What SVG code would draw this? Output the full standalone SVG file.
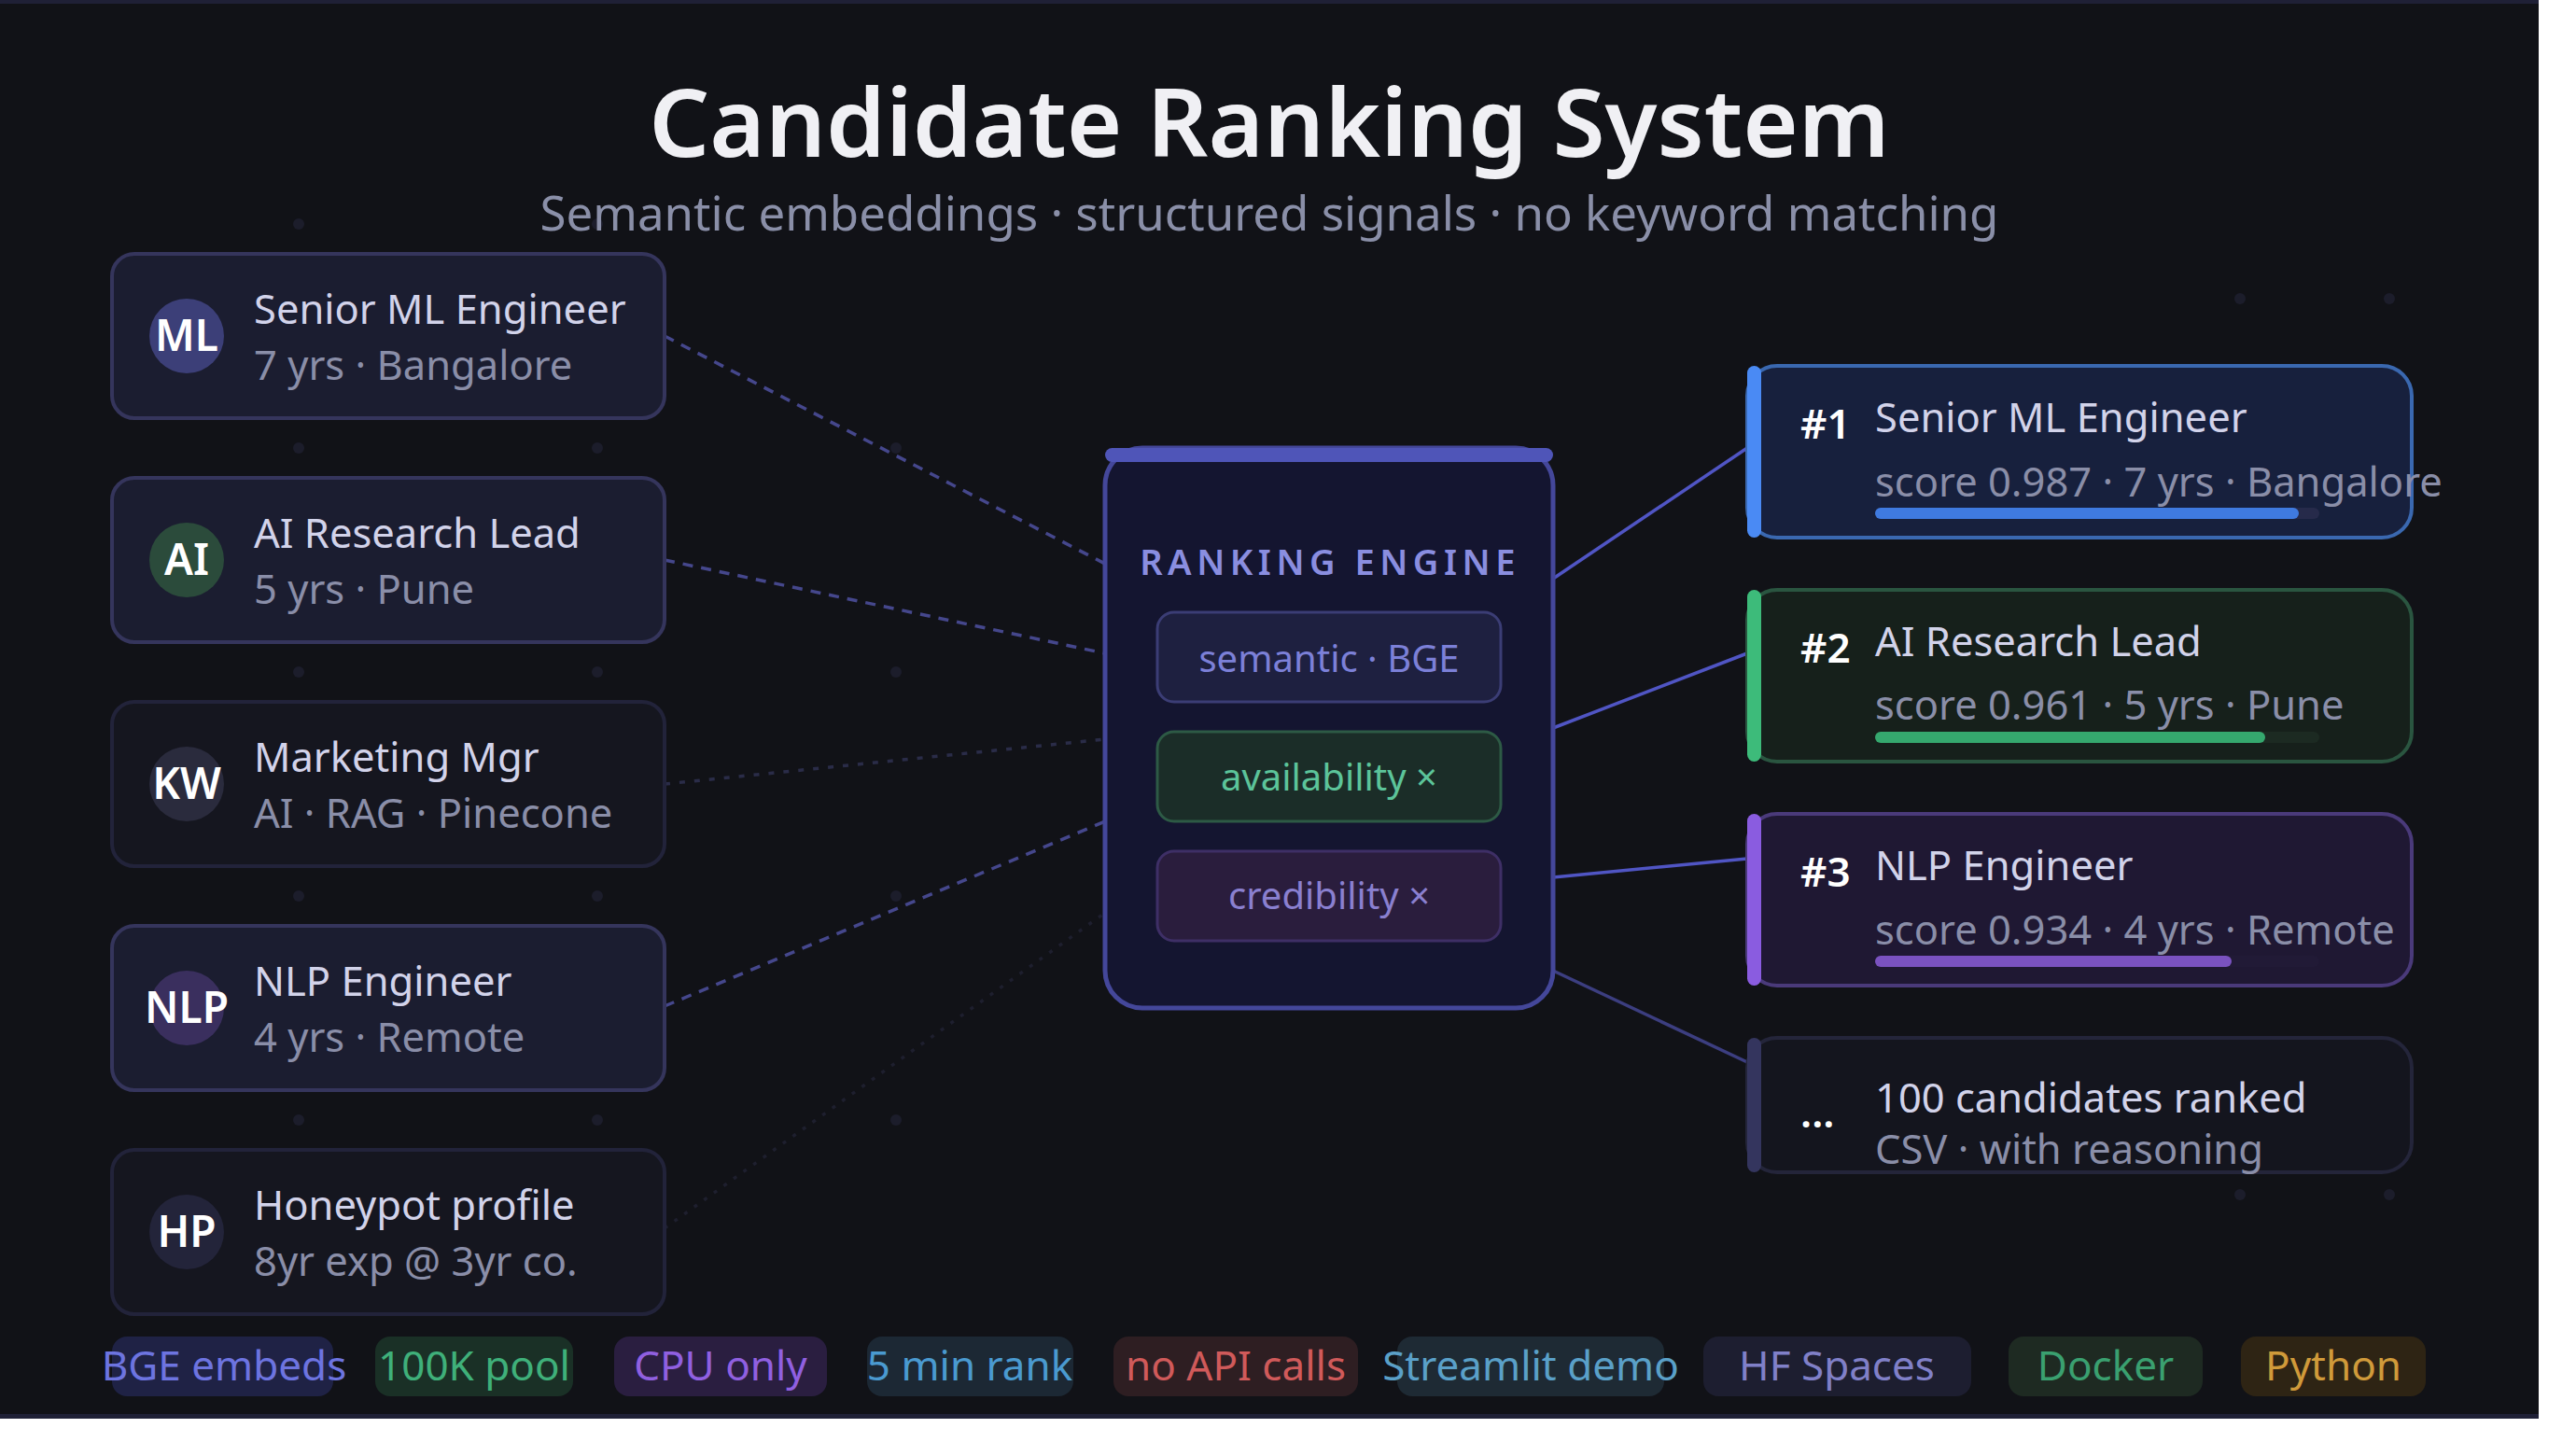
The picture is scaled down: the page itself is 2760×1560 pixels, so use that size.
<svg xmlns="http://www.w3.org/2000/svg" width="2760" height="1560" viewBox="0 0 2760 1560">
<style>
text{font-family:"Noto Sans","Open Sans","DejaVu Sans",sans-serif}
.title{font-size:102px;font-weight:600;fill:#f0f0f4;text-anchor:middle}
.sub{font-size:51px;fill:#8a8fa8;text-anchor:middle}
.name{font-size:43.5px;fill:#d2d3ea}
.meta{font-size:43.5px;fill:#8a8ea8}
.av{font-size:46px;font-weight:600;fill:#ffffff;text-anchor:middle}
.rank{font-size:44px;font-weight:600;fill:#ffffff}
.lcard{fill:#1b1d30;stroke:#35355c;stroke-width:4}
.lcard.dim{fill:#15161f;stroke:#22233a}
.dot{fill:#1c1d2b}
.dash{fill:none;stroke:#45478c;stroke-width:3.5;stroke-dasharray:11 9}
.solid{fill:none;stroke:#5055c4;stroke-width:3.5}
.chip{font-size:40px;text-anchor:middle}
.tag{font-size:44px;text-anchor:middle}
.eng-label{font-size:38px;font-weight:600;fill:#8a8ee0;letter-spacing:5.5px;text-anchor:middle}
</style>
<rect x="0" y="0" width="2760" height="1560" fill="#ffffff"/>
<rect x="0" y="0" width="2720" height="1520" fill="#111217"/>
<rect x="0" y="0" width="2720" height="4" fill="#1f2036"/>
<rect x="0" y="1515" width="2720" height="5" fill="#1f2036"/>

<g id="bg-dots">
<circle class="dot" cx="320" cy="240" r="6"/><circle class="dot" cx="640" cy="240" r="6"/><circle class="dot" cx="960" cy="240" r="6"/>
<circle class="dot" cx="320" cy="480" r="6"/><circle class="dot" cx="640" cy="480" r="6"/><circle class="dot" cx="960" cy="480" r="6"/>
<circle class="dot" cx="320" cy="720" r="6"/><circle class="dot" cx="640" cy="720" r="6"/><circle class="dot" cx="960" cy="720" r="6"/>
<circle class="dot" cx="320" cy="960" r="6"/><circle class="dot" cx="640" cy="960" r="6"/><circle class="dot" cx="960" cy="960" r="6"/>
<circle class="dot" cx="320" cy="1200" r="6"/><circle class="dot" cx="640" cy="1200" r="6"/><circle class="dot" cx="960" cy="1200" r="6"/>
<circle class="dot" cx="2400" cy="320" r="6"/><circle class="dot" cx="2560" cy="320" r="6"/>
<circle class="dot" cx="2400" cy="1280" r="6"/><circle class="dot" cx="2560" cy="1280" r="6"/>
</g>

<g id="header">
<text class="title" x="1360" y="168">Candidate Ranking System</text>
<text class="sub" x="1360" y="247">Semantic embeddings · structured signals · no keyword matching</text>
</g>

<g id="connectors">
<line class="dash" x1="712" y1="360" x2="1184" y2="604"/>
<line class="dash" x1="712" y1="600" x2="1184" y2="700"/>
<line class="dash" x1="712" y1="840" x2="1184" y2="792" style="stroke:#2a2c48;stroke-dasharray:6 10"/>
<line class="dash" x1="712" y1="1078" x2="1184" y2="880"/>
<line class="dash" x1="712" y1="1316" x2="1184" y2="978" style="stroke:#1e1f2e;stroke-dasharray:4 9"/>
<line class="solid" x1="1664" y1="620" x2="1872" y2="480"/>
<line class="solid" x1="1664" y1="780" x2="1872" y2="700"/>
<line class="solid" x1="1664" y1="940" x2="1872" y2="920"/>
<line class="solid" x1="1664" y1="1040" x2="1872" y2="1138" style="stroke:#3c3e80"/>
</g>

<g id="cand-ml">
<rect class="lcard" x="120" y="272" width="592" height="176" rx="24"/>
<circle cx="200" cy="360" r="40" fill="#3c3f78"/>
<text class="av" x="200" y="376">ML</text>
<text class="name" x="272" y="347">Senior ML Engineer</text>
<text class="meta" x="272" y="407">7 yrs · Bangalore</text>
</g>
<g id="cand-ai">
<rect class="lcard" x="120" y="512" width="592" height="176" rx="24"/>
<circle cx="200" cy="600" r="40" fill="#2b4b3b"/>
<text class="av" x="200" y="616">AI</text>
<text class="name" x="272" y="587">AI Research Lead</text>
<text class="meta" x="272" y="647">5 yrs · Pune</text>
</g>
<g id="cand-kw">
<rect class="lcard dim" x="120" y="752" width="592" height="176" rx="24"/>
<circle cx="200" cy="840" r="40" fill="#2a2b3d"/>
<text class="av" x="200" y="856">KW</text>
<text class="name" x="272" y="827">Marketing Mgr</text>
<text class="meta" x="272" y="887">AI · RAG · Pinecone</text>
</g>
<g id="cand-nlp">
<rect class="lcard" x="120" y="992" width="592" height="176" rx="24"/>
<circle cx="200" cy="1080" r="40" fill="#3a2f5e"/>
<text class="av" x="200" y="1096">NLP</text>
<text class="name" x="272" y="1067">NLP Engineer</text>
<text class="meta" x="272" y="1127">4 yrs · Remote</text>
</g>
<g id="cand-hp">
<rect class="lcard dim" x="120" y="1232" width="592" height="176" rx="24"/>
<circle cx="200" cy="1320" r="40" fill="#23243a"/>
<text class="av" x="200" y="1336">HP</text>
<text class="name" x="272" y="1307">Honeypot profile</text>
<text class="meta" x="272" y="1367">8yr exp @ 3yr co.</text>
</g>

<g id="ranking-engine">
<rect x="1184" y="480" width="480" height="600" rx="40" fill="#141530" stroke="#44479a" stroke-width="5"/>
<rect x="1184" y="480" width="480" height="15" rx="7.5" fill="#4f55b8"/>
<text class="eng-label" x="1425" y="616">RANKING ENGINE</text>
<rect x="1240" y="656" width="368" height="96" rx="18" fill="#1e2040" stroke="#3b3d75" stroke-width="3"/>
<text class="chip" x="1424" y="720" fill="#7c80d8">semantic · BGE</text>
<rect x="1240" y="784" width="368" height="96" rx="18" fill="#1b2d28" stroke="#2d5a45" stroke-width="3"/>
<text class="chip" x="1424" y="847" fill="#5cc49a">availability ×</text>
<rect x="1240" y="912" width="368" height="96" rx="18" fill="#2a1d3d" stroke="#3e2f66" stroke-width="3"/>
<text class="chip" x="1424" y="974" fill="#8a80d0">credibility ×</text>
</g>

<g id="rank-1">
<rect x="1872" y="392" width="712" height="184" rx="32" fill="#17203d" stroke="#3a68b0" stroke-width="4"/>
<rect x="1872" y="392" width="15" height="184" rx="7.5" fill="#4a8af4"/>
<text class="rank" x="1929" y="470">#1</text>
<text class="name" x="2009" y="463">Senior ML Engineer</text>
<text class="meta" x="2009" y="532">score 0.987 · 7 yrs · Bangalore</text>
<rect x="2009" y="544" width="476" height="12" rx="6" fill="#262a4a"/>
<rect x="2009" y="544" width="454" height="12" rx="6" fill="#3f7ae0"/>
</g>
<g id="rank-2">
<rect x="1872" y="632" width="712" height="184" rx="32" fill="#16201b" stroke="#2a5540" stroke-width="4"/>
<rect x="1872" y="632" width="15" height="184" rx="7.5" fill="#3dbb7a"/>
<text class="rank" x="1929" y="710">#2</text>
<text class="name" x="2009" y="703">AI Research Lead</text>
<text class="meta" x="2009" y="771">score 0.961 · 5 yrs · Pune</text>
<rect x="2009" y="784" width="476" height="12" rx="6" fill="#1c2a22"/>
<rect x="2009" y="784" width="418" height="12" rx="6" fill="#35a86e"/>
</g>
<g id="rank-3">
<rect x="1872" y="872" width="712" height="184" rx="32" fill="#1f1833" stroke="#4a3a7a" stroke-width="4"/>
<rect x="1872" y="872" width="15" height="184" rx="7.5" fill="#8a5ce0"/>
<text class="rank" x="1929" y="950">#3</text>
<text class="name" x="2009" y="943">NLP Engineer</text>
<text class="meta" x="2009" y="1012">score 0.934 · 4 yrs · Remote</text>
<rect x="2009" y="1024" width="476" height="12" rx="6" fill="#211a36"/>
<rect x="2009" y="1024" width="382" height="12" rx="6" fill="#7a52c0"/>
</g>
<g id="rank-more">
<rect x="1872" y="1112" width="712" height="144" rx="32" fill="#14151e" stroke="#24253a" stroke-width="4"/>
<rect x="1872" y="1112" width="15" height="144" rx="7.5" fill="#34355e"/>
<text class="rank" x="1929" y="1208">...</text>
<text class="name" x="2009" y="1192">100 candidates ranked</text>
<text class="meta" x="2009" y="1247">CSV · with reasoning</text>
</g>

<g id="tags">
<rect x="120" y="1432" width="237" height="64" rx="16" fill="#1f2245"/>
<text class="tag" x="240" y="1479" fill="#6d74e0">BGE embeds</text>
<rect x="402" y="1432" width="212" height="64" rx="16" fill="#1a3026"/>
<text class="tag" x="508" y="1479" fill="#3fb07a">100K pool</text>
<rect x="658" y="1432" width="228" height="64" rx="16" fill="#2a1e40"/>
<text class="tag" x="772" y="1479" fill="#9060e0">CPU only</text>
<rect x="929" y="1432" width="221" height="64" rx="16" fill="#1c2834"/>
<text class="tag" x="1039" y="1479" fill="#4a9ad0">5 min rank</text>
<rect x="1193" y="1432" width="262" height="64" rx="16" fill="#2e1e22"/>
<text class="tag" x="1324" y="1479" fill="#d05a5a">no API calls</text>
<rect x="1497" y="1432" width="286" height="64" rx="16" fill="#1e2a34"/>
<text class="tag" x="1640" y="1479" fill="#5aa0c8">Streamlit demo</text>
<rect x="1825" y="1432" width="287" height="64" rx="16" fill="#1d1e30"/>
<text class="tag" x="1968" y="1479" fill="#8080c8">HF Spaces</text>
<rect x="2152" y="1432" width="208" height="64" rx="16" fill="#1e2a22"/>
<text class="tag" x="2256" y="1479" fill="#3aa070">Docker</text>
<rect x="2401" y="1432" width="198" height="64" rx="16" fill="#2e2414"/>
<text class="tag" x="2500" y="1479" fill="#d09a3a">Python</text>
</g>
</svg>
